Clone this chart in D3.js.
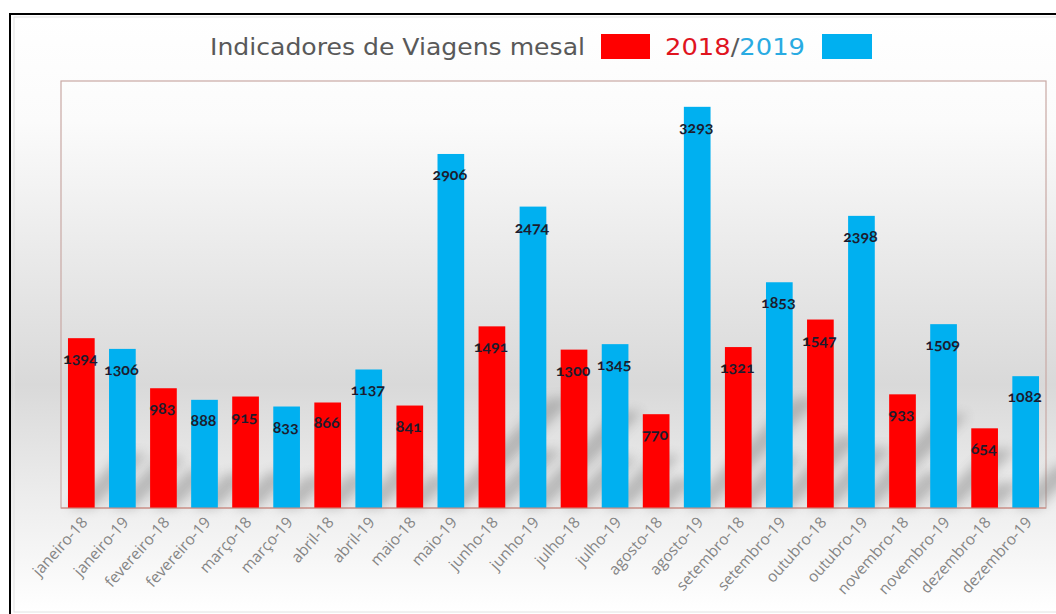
<!DOCTYPE html>
<html>
<head>
<meta charset="utf-8">
<script src="https://cdn.jsdelivr.net/npm/d3@7"></script>
<style>
  body { margin: 0; background: #fff; }
  svg { display: block; }
</style>
</head>
<body>
<svg id="vis" width="1056" height="614"></svg>
<script>
// monthly trips, 2018 vs 2019, bars interleaved per month
let months = ["janeiro", "fevereiro", "março", "abril", "maio", "junho",
    "julho", "agosto", "setembro", "outubro", "novembro", "dezembro"];
let years = ["18", "19"];
let values2018 = [1394, 983, 915, 866, 841, 1491, 1300, 770, 1321, 1547, 933, 654];
let values2019 = [1306, 888, 833, 1137, 2906, 2474, 1345, 3293, 1853, 2398, 1509, 1082];

let red = "#ff0000", blue = "#00b0f0";

let data = [];
months.forEach(function (m, i) {
    data.push({label: m + "-" + years[0], value: values2018[i], color: red});
    data.push({label: m + "-" + years[1], value: values2019[i], color: blue});
});

let svg = d3.select("#vis");
let width = 1056, height = 614;
let plot = {left: 61, top: 81, right: 1046, bottom: 508};

let defs = svg.append("defs");

let bg = defs.append("linearGradient").attr("id", "bg")
    .attr("x1", 0).attr("y1", 0).attr("x2", 0).attr("y2", 1);
bg.append("stop").attr("offset", "0%").attr("stop-color", "#ffffff");
bg.append("stop").attr("offset", "18%").attr("stop-color", "#fbfbfb");
bg.append("stop").attr("offset", "62%").attr("stop-color", "#d9d9d9");
bg.append("stop").attr("offset", "80%").attr("stop-color", "#ececec");
bg.append("stop").attr("offset", "100%").attr("stop-color", "#ffffff");

defs.append("filter").attr("id", "blur")
    .attr("x", "-50%").attr("y", "-50%").attr("width", "200%").attr("height", "200%")
    .append("feGaussianBlur").attr("stdDeviation", 6);

// frame: black on top and left only, light line at the bottom
svg.append("rect")
    .attr("x", 0).attr("y", 0).attr("width", width).attr("height", height)
    .attr("fill", "#ffffff");
svg.append("rect")
    .attr("x", 10).attr("y", 14).attr("width", width).attr("height", 598)
    .attr("fill", "url(#bg)");
svg.append("rect")
    .attr("x", 14).attr("y", 17).attr("width", width).attr("height", 595)
    .attr("fill", "none")
    .attr("stroke", "#e2e2e2").attr("stroke-width", 1);
svg.append("path")
    .attr("d", "M10," + height + "V14H" + width)
    .attr("fill", "none")
    .attr("stroke", "#000").attr("stroke-width", 2);

let x = d3.scaleBand()
    .domain(data.map(d => d.label))
    .range([plot.left, plot.right])
    .paddingInner(0.35)
    .paddingOuter(0.17);

let y = d3.scaleLinear()
    .domain([0, 3505])
    .range([plot.bottom, plot.top]);

// plot area border
svg.append("rect")
    .attr("x", plot.left).attr("y", plot.top)
    .attr("width", plot.right - plot.left).attr("height", plot.bottom - plot.top)
    .attr("fill", "none")
    .attr("stroke", "#c9a8a4").attr("stroke-width", 1.2);

// soft cast shadows behind the bars
let shadow = svg.append("g");
shadow.selectAll("path")
    .data(data)
    .enter()
    .append("path")
    .attr("d", function (d) {
        let x0 = x(d.label), w = x.bandwidth();
        let len = Math.min((plot.bottom - y(d.value)) * 0.32, 110);
        return "M" + x0 + "," + plot.bottom +
            "L" + (x0 + len) + "," + (plot.bottom - len) +
            "L" + (x0 + w + len) + "," + (plot.bottom - len) +
            "L" + (x0 + w) + "," + plot.bottom + "Z";
    })
    .attr("fill", "#7a7a7a")
    .attr("opacity", 0.45)
    .attr("filter", "url(#blur)");

// bars
svg.selectAll("rect.bar")
    .data(data)
    .enter()
    .append("rect")
    .attr("class", "bar")
    .attr("x", d => x(d.label))
    .attr("y", d => y(d.value))
    .attr("width", x.bandwidth())
    .attr("height", d => plot.bottom - y(d.value))
    .attr("fill", d => d.color);

// axis baseline
svg.append("line")
    .attr("x1", plot.left).attr("x2", plot.right)
    .attr("y1", plot.bottom).attr("y2", plot.bottom)
    .attr("stroke", "#d08a80").attr("stroke-width", 1.2);

// value labels inside bars
svg.selectAll("text.val")
    .data(data)
    .enter()
    .append("text")
    .attr("class", "val")
    .attr("x", d => x(d.label) + x.bandwidth() / 2 - 1)
    .attr("y", d => y(d.value) + 26)
    .attr("text-anchor", "middle")
    .attr("font-family", "Lato, 'Open Sans', sans-serif")
    .attr("font-weight", "bold")
    .attr("font-size", 16)
    .style("font-feature-settings", "'onum' 1")
    .attr("fill", "#1c1c2e")
    .text(d => d.value);

// rotated category labels
svg.selectAll("text.cat")
    .data(data)
    .enter()
    .append("text")
    .attr("class", "cat")
    .attr("transform", d => "translate(" + (x(d.label) + x.bandwidth() / 2 + 7) + "," + (plot.bottom + 15) + ") rotate(-48)")
    .attr("text-anchor", "end")
    .attr("font-family", "'Open Sans', Lato, sans-serif")
    .attr("font-size", 15.5)
    .attr("fill", "#858585")
    .text(d => d.label);

// title with legend swatches
let title = svg.append("g");
title.append("text")
    .attr("x", 210).attr("y", 55)
    .attr("font-family", "'DejaVu Sans', sans-serif")
    .attr("font-size", 23)
    .attr("textLength", 375)
    .attr("lengthAdjust", "spacingAndGlyphs")
    .attr("fill", "#595959")
    .text("Indicadores de Viagens mesal");
title.append("rect")
    .attr("x", 601).attr("y", 34).attr("width", 49).attr("height", 25)
    .attr("fill", red);
let yearText = title.append("text")
    .attr("x", 665).attr("y", 55)
    .attr("font-family", "'DejaVu Sans', sans-serif")
    .attr("font-size", 23)
    .attr("textLength", 140)
    .attr("lengthAdjust", "spacingAndGlyphs");
yearText.append("tspan").attr("fill", "#e0141e").text("2018");
yearText.append("tspan").attr("fill", "#595959").text("/");
yearText.append("tspan").attr("fill", "#29abe2").text("2019");
title.append("rect")
    .attr("x", 822).attr("y", 34).attr("width", 50).attr("height", 25)
    .attr("fill", blue);
</script>
</body>
</html>
